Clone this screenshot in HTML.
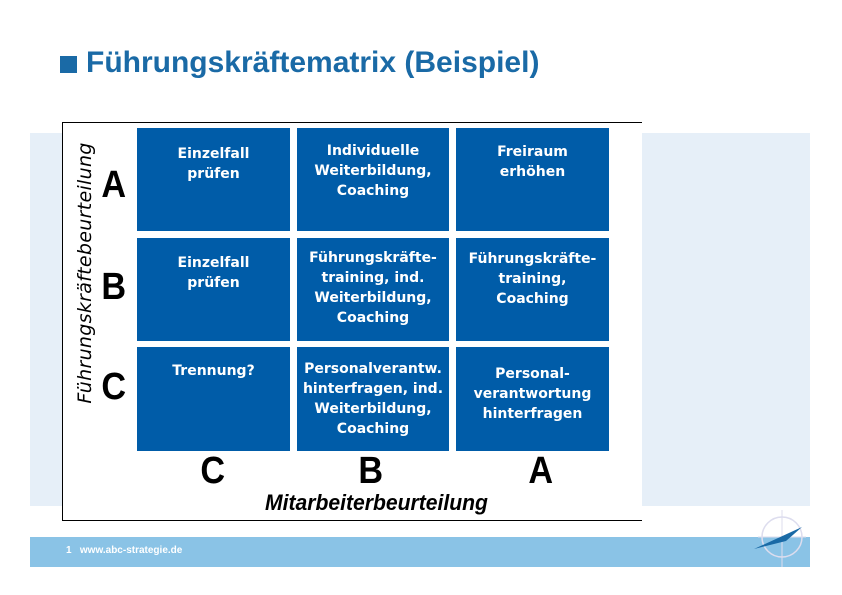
<!DOCTYPE html>
<html><head><meta charset="utf-8"><style>
body{margin:0;width:842px;height:595px;position:relative;background:#fff;font-family:"Liberation Sans",sans-serif;overflow:hidden}
.a{position:absolute}
.c{position:absolute;background:#005ca8;color:#fff;text-align:center;font-family:"DejaVu Sans",sans-serif;font-weight:bold;font-size:14px;line-height:20px;padding-top:14px;box-sizing:border-box}
.L{position:absolute;font-weight:bold;font-size:38px;color:#000;transform:scaleX(0.9)}
</style></head><body>
<div class="a" style="left:30px;top:133px;width:780px;height:373px;background:#e6eff8"></div>
<div class="a" style="left:60px;top:56px;width:17px;height:17px;background:#1a6aa6"></div>
<div class="a" style="left:86px;top:46px;font-size:30px;font-weight:bold;color:#1a6aa6">Führungskräftematrix (Beispiel)</div>
<div class="a" style="left:62px;top:122px;width:579px;height:397px;background:#fff;border-top:1px solid #000;border-left:1px solid #000;border-bottom:1px solid #000"></div>
<div class="c" style="left:137px;top:128px;width:153px;height:103px;padding-top:16px">Einzelfall<br>prüfen</div>
<div class="c" style="left:297px;top:128px;width:152px;height:103px;padding-top:13px">Individuelle<br>Weiterbildung,<br>Coaching</div>
<div class="c" style="left:456px;top:128px;width:153px;height:103px;padding-top:14px">Freiraum<br>erhöhen</div>
<div class="c" style="left:137px;top:238px;width:153px;height:103px;padding-top:15px">Einzelfall<br>prüfen</div>
<div class="c" style="left:297px;top:238px;width:152px;height:103px;padding-top:10px">Führungskräfte-<br>training, ind.<br>Weiterbildung,<br>Coaching</div>
<div class="c" style="left:456px;top:238px;width:153px;height:103px;padding-top:11px">Führungskräfte-<br>training,<br>Coaching</div>
<div class="c" style="left:137px;top:347px;width:153px;height:104px;padding-top:14px">Trennung?</div>
<div class="c" style="left:297px;top:347px;width:152px;height:104px;padding-top:12px">Personalverantw.<br>hinterfragen, ind.<br>Weiterbildung,<br>Coaching</div>
<div class="c" style="left:456px;top:347px;width:153px;height:104px;padding-top:17px">Personal-<br>verantwortung<br>hinterfragen</div>
<div class="L" style="left:100px;top:164px">A</div>
<div class="L" style="left:100px;top:266px">B</div>
<div class="L" style="left:100px;top:366px">C</div>
<div class="L" style="left:199px;top:450px">C</div>
<div class="L" style="left:357px;top:450px">B</div>
<div class="L" style="left:527px;top:450px">A</div>
<div class="a" style="left:265px;top:490px;font-size:22px;font-weight:bold;font-style:italic;transform-origin:0 0;transform:scaleX(0.96)">Mitarbeiterbeurteilung</div>
<div class="a" style="left:72px;top:418px;width:290px;transform-origin:0 0;transform:rotate(-90deg);font-family:'DejaVu Sans',sans-serif;font-size:19px;font-style:italic;line-height:26px;text-align:center;letter-spacing:0.3px">Führungskräftebeurteilung</div>
<div class="a" style="left:30px;top:537px;width:780px;height:30px;background:#8ac3e6"></div>
<div class="a" style="left:66px;top:545px;font-size:10px;color:#fff;font-weight:bold">1&nbsp;&nbsp;&nbsp;www.abc-strategie.de</div>
<svg class="a" style="left:750px;top:505px" width="60" height="70"><circle cx="32" cy="32" r="20" fill="none" stroke="#dde" stroke-width="1.5"/><line x1="32" y1="5" x2="32" y2="62" stroke="#dde"/><line x1="8" y1="32" x2="56" y2="32" stroke="#dde"/><polygon points="4,44 52,22 36,36" fill="#1a6aa6"/></svg>
</body></html>
